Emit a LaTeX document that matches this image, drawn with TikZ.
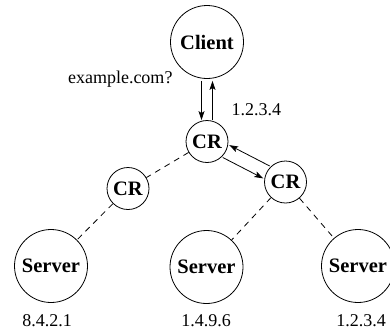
\documentclass[tikz,border=0pt]{standalone}
\usepackage{fontspec}
\setmainfont{Liberation Serif}
\usetikzlibrary{arrows.meta}

\begin{document}
\begin{tikzpicture}[x=1pt,y=-1pt,
  host/.style={draw,circle,line width=0.8pt,minimum size=73pt,inner sep=0pt,
    font=\fontsize{20.5}{22}\selectfont\bfseries},
  router/.style={draw,circle,line width=0.8pt,minimum size=42pt,inner sep=0pt,
    font=\fontsize{20.5}{22}\selectfont\bfseries},
  addr/.style={font=\fontsize{18}{20}\selectfont},
  link/.style={line width=0.8pt,dash pattern=on 6pt off 5pt},
  msg/.style={line width=0.8pt,-{Stealth[length=9pt,width=6pt,inset=2pt]}}]
            \useasboundingbox (0,0) rectangle (390,333);
            % hosts and caching resolvers
            \node[host] (client) at (207,42) {Client};
            \node[router] (cr1) at (207,141.5) {CR};
            \node[router] (cr2) at (128,188.5) {CR};
            \node[router] (cr3) at (285.5,182) {CR};
            \node[host] (srv1) at (51,266) {Server};
            \node[host] (srv2) at (206.5,267) {Server};
            \node[host] (srv3) at (358,266) {Server};
            % tree links
            \draw[link] (cr1) -- (cr2);
            \draw[link] (cr2) -- (srv1);
            \draw[link] (cr3) -- (srv2);
            \draw[link] (cr3) -- (srv3);
            % query and answer
            \draw[msg,shorten <=2pt,transform canvas={xshift=-5.5pt}] (client) -- (cr1);
            \draw[msg,shorten >=2pt,transform canvas={xshift=5.5pt}] (cr1) -- (client);
            \draw[msg,transform canvas={shift={(-3.2,6.2)}}] (cr1) -- (cr3);
            \draw[msg,transform canvas={shift={(3.2,-6.2)}}] (cr3) -- (cr1);
            \node[addr,anchor=base east] (query) at (176,83) {example.com?};
            \node[addr,anchor=base west] (answer) at (228,115) {1.2.3.4};
            % addresses
            \node[addr,anchor=base] (ip1) at (47,326) {8.4.2.1};
            \node[addr,anchor=base] (ip2) at (206,326) {1.4.9.6};
            \node[addr,anchor=base] (ip3) at (361,326) {1.2.3.4};
\end{tikzpicture}
\end{document}
